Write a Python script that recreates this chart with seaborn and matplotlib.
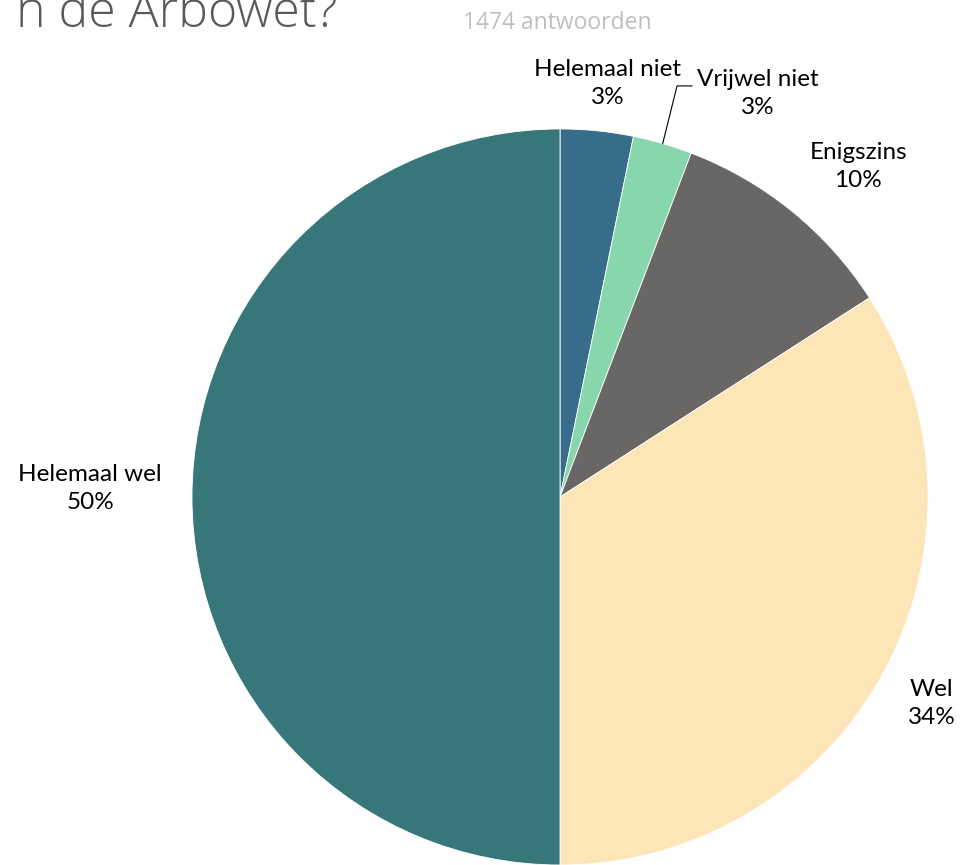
import numpy as np
import seaborn as sns
import matplotlib.pyplot as plt

categories = ['Helemaal niet', 'Vrijwel niet', 'Enigszins', 'Wel', 'Helemaal wel']
percentages = [3.2, 2.6, 10.1, 34.1, 50.0]
labels_pct = ['3%', '3%', '10%', '34%', '50%']
colors = ['#376d8a', '#88d6ac', '#686766', '#fce5b6', '#37777a']

sns.set_theme(style='white')
plt.rcParams['font.family'] = ['Lato', 'DejaVu Sans']

fig = plt.figure(figsize=(9.6, 8.65), dpi=100)
ax = fig.add_axes([0.2, 0.0, 0.7667, 0.8509])

wedges, _ = ax.pie(percentages, colors=colors, startangle=90, counterclock=False,
                   wedgeprops=dict(edgecolor='white', linewidth=0.6))
ax.set_xlim(-1, 1)
ax.set_ylim(-1, 1)
ax.set_aspect('equal')
ax.axis('off')

# label placement: distance from centre (radii) and angle shift (deg)
label_dist = [1.13, 1.22, 1.21, 1.155, 1.277]
label_shift = [-0.8, -9.9, -3.0, -0.4, -1.0]

cum = np.cumsum([0] + percentages)
for i, name in enumerate(categories):
    mid = 90 - (cum[i] + percentages[i] / 2) * 3.6 + label_shift[i]
    r = label_dist[i]
    x, y = r * np.cos(np.radians(mid)), r * np.sin(np.radians(mid))
    ax.text(x, y, name + '\n' + labels_pct[i], ha='center', va='center',
            fontsize=17.5, color='#000000', linespacing=1.42, clip_on=False)

# leader line for the small slice
mid = np.radians(90 - (cum[1] + percentages[1] / 2) * 3.6)
x0, y0 = np.cos(mid), np.sin(mid)
ax.plot([x0 * 1.0, 0.318, 0.359], [y0 * 1.0, 1.117, 1.117], color='black',
        lw=0.8, clip_on=False)

fig.text(338 / 960, 1 - 27 / 865, 'n de Arbowet?', ha='right', va='baseline',
         fontsize=36, color='#595959', family=['Open Sans', 'DejaVu Sans'],
         fontweight='light')
fig.text(463 / 960, 1 - 29 / 865, '1474 antwoorden', ha='left', va='baseline',
         fontsize=16.5, color='#bfbfbf', family=['Open Sans', 'DejaVu Sans'])

fig.savefig('out.png', dpi=100)
